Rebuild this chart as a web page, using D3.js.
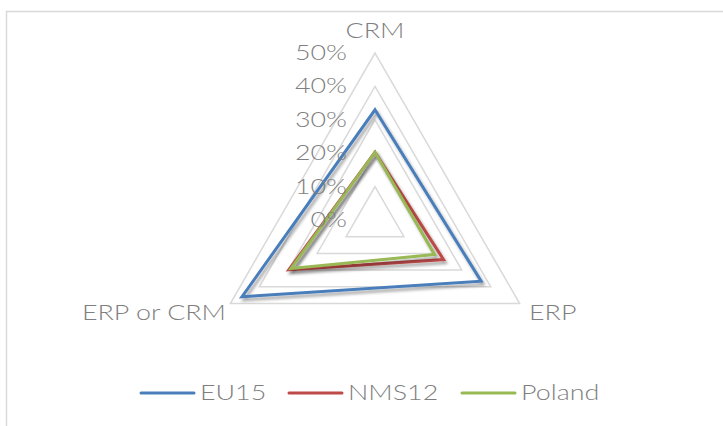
<!DOCTYPE html>
<html>
<head>
<meta charset="utf-8">
<script src="https://cdn.jsdelivr.net/npm/d3@7"></script>
<style>
  body { margin: 0; background: #fff; }
  text { font-family: "Lato", "Open Sans", sans-serif; font-weight: 300; fill: #7f7f7f; }
</style>
</head>
<body>
<div id="chart"></div>
<script>
// categories (clockwise from top) and series
var axes = ["CRM", "ERP", "ERP or CRM"];
var eu15 = [0.33, 0.367, 0.46];
var nms12 = [0.203, 0.237, 0.298];
var poland = [0.203, 0.206, 0.29];
var ticks = [0, 0.1, 0.2, 0.3, 0.4, 0.5];

var series = [
  {name: "EU15", values: eu15, color: "#4a7ebb"},
  {name: "NMS12", values: nms12, color: "#be4b48"},
  {name: "Poland", values: poland, color: "#98b954"}
];

var width = 723, height = 426;
var cx = 375, cy = 220, R = 167;
var stretch = 1.28; // the original font is much wider than Lato

var svg = d3.select("#chart")
  .append("svg")
    .attr("width", width)
    .attr("height", height);

// drop shadow like the office chart
var defs = svg.append("defs");
defs.append("filter")
    .attr("id", "shadow")
    .attr("x", "-20%").attr("y", "-20%")
    .attr("width", "140%").attr("height", "140%")
  .append("feDropShadow")
    .attr("dx", 2).attr("dy", 3)
    .attr("stdDeviation", 1.8)
    .attr("flood-color", "#000")
    .attr("flood-opacity", 0.35);

// chart frame (right and bottom edges are off the picture)
svg.append("path")
  .attr("d", "M6.5,426V11.5H723")
  .attr("fill", "none")
  .attr("stroke", "#d9d9d9")
  .attr("stroke-width", 1.5);

var r = d3.scaleLinear().domain([0, 0.5]).range([0, R]);
var angle = d3.scalePoint().domain(axes).range([0, 2 * Math.PI * 2 / 3]);

function pt(cat, v) {
  var a = angle(cat);
  return [cx + r(v) * Math.sin(a), cy - r(v) * Math.cos(a)];
}

function place(x, y) {
  return "translate(" + x + "," + y + ") scale(" + stretch + ",1)";
}

var g = svg.append("g");

// grid rings
g.selectAll(".grid")
  .data(ticks.slice(1))
  .enter()
  .append("polygon")
    .attr("class", "grid")
    .attr("points", function(t) {
      return axes.map(function(c) { return pt(c, t).join(","); }).join(" ");
    })
    .attr("fill", "none")
    .attr("stroke", "#d9d9d9")
    .attr("stroke-width", 1.5);

// series
var line = d3.line().curve(d3.curveLinearClosed);
g.selectAll(".series")
  .data(series)
  .enter()
  .append("path")
    .attr("class", "series")
    .attr("d", function(s) {
      return line(axes.map(function(c, i) { return pt(c, s.values[i]); }));
    })
    .attr("fill", "none")
    .attr("stroke", function(s) { return s.color; })
    .attr("stroke-width", 3)
    .attr("stroke-linejoin", "miter")
    .attr("filter", "url(#shadow)");

// tick labels
g.selectAll(".tick")
  .data(ticks)
  .enter()
  .append("text")
    .attr("transform", function(t) { return place(cx - 28, cy - r(t) + 7); })
    .attr("text-anchor", "end")
    .attr("font-size", 21)
    .text(function(t) { return d3.format(".0%")(t); });

// category labels
var labelPos = {
  "CRM": {x: cx, y: 38, anchor: "middle"},
  "ERP": {x: 529, y: 320, anchor: "start"},
  "ERP or CRM": {x: 226, y: 320, anchor: "end"}
};
g.selectAll(".cat")
  .data(axes)
  .enter()
  .append("text")
    .attr("transform", function(c) { return place(labelPos[c].x, labelPos[c].y); })
    .attr("text-anchor", function(c) { return labelPos[c].anchor; })
    .attr("font-size", 21)
    .text(function(c) { return c; });

// legend
var legendX = [141, 289, 462];
var leg = svg.selectAll(".legend")
  .data(series)
  .enter()
  .append("g")
    .attr("transform", function(d, i) { return "translate(" + legendX[i] + ",393)"; });
leg.append("line")
  .attr("x1", 0).attr("x2", 53)
  .attr("stroke", function(d) { return d.color; })
  .attr("stroke-width", 3)
  .attr("stroke-linecap", "round");
leg.append("text")
  .attr("transform", place(59, 7))
  .attr("font-size", 21)
  .text(function(d) { return d.name; });
</script>
</body>
</html>
